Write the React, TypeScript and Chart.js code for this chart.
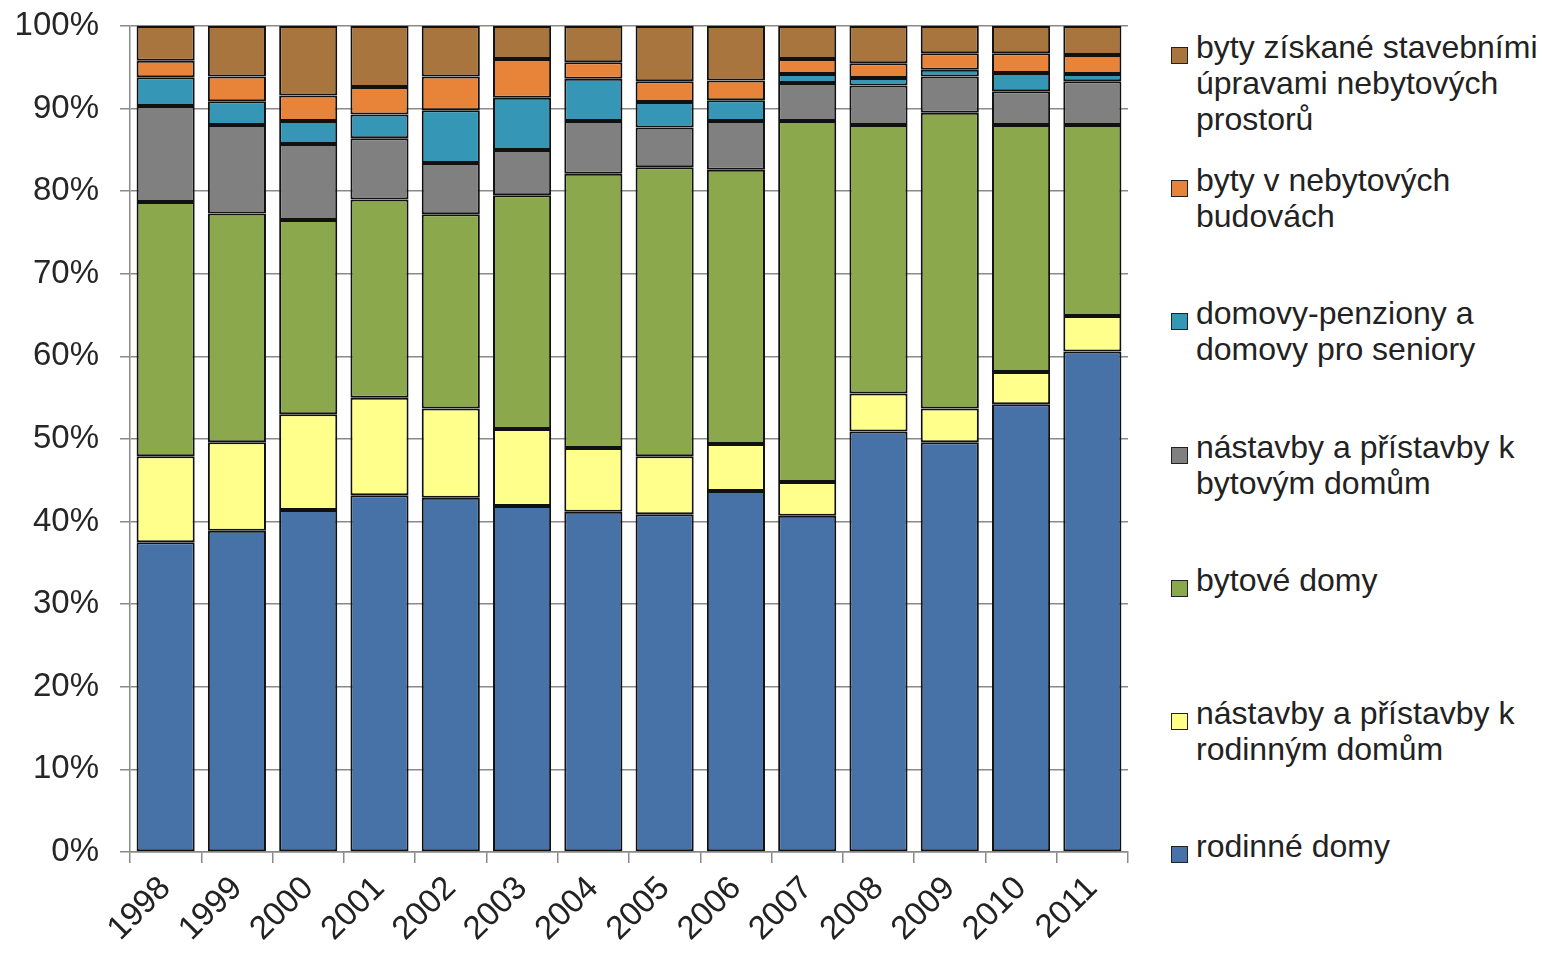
import React, { useEffect, useRef } from "react";
import { Chart, registerables } from "chart.js";

Chart.register(...registerables);

const years = ["1998", "1999", "2000", "2001", "2002", "2003", "2004", "2005", "2006", "2007", "2008", "2009", "2010", "2011"];

const rodinneDomy = [37.5, 38.9, 41.4, 43.2, 42.9, 41.9, 41.2, 40.9, 43.7, 40.7, 50.9, 49.6, 54.2, 60.6];
const nastavbyRD = [10.4, 10.7, 11.6, 11.8, 10.8, 9.3, 7.7, 7.0, 5.7, 4.1, 4.6, 4.1, 3.9, 4.3];
const bytoveDomy = [30.8, 27.7, 23.5, 24.0, 23.5, 28.3, 33.2, 35.0, 33.2, 43.7, 32.5, 35.8, 29.9, 23.1];
const nastavbyBD = [11.6, 10.7, 9.2, 7.4, 6.2, 5.5, 6.4, 4.8, 5.9, 4.6, 4.8, 4.4, 4.1, 5.3];
const domovy = [3.5, 2.9, 2.8, 2.9, 6.4, 6.3, 5.1, 3.1, 2.5, 1.1, 0.9, 0.8, 2.2, 0.9];
const nebytoveBudovy = [2.0, 3.0, 3.1, 3.3, 4.1, 4.7, 2.0, 2.5, 2.4, 1.8, 1.8, 2.0, 2.4, 2.3];
const upravy = [4.2, 6.1, 8.4, 7.4, 6.1, 4.0, 4.4, 6.7, 6.6, 4.0, 4.5, 3.3, 3.3, 3.5];

const yTicks = [0, 10, 20, 30, 40, 50, 60, 70, 80, 90, 100];

const series = [
  { label: "rodinné domy", lines: ["rodinné domy"], data: rodinneDomy, color: "#4672a8" },
  { label: "nástavby a přístavby k rodinným domům", lines: ["nástavby a přístavby k", "rodinným domům"], data: nastavbyRD, color: "#ffff8c" },
  { label: "bytové domy", lines: ["bytové domy"], data: bytoveDomy, color: "#8ca84d" },
  { label: "nástavby a přístavby k bytovým domům", lines: ["nástavby a přístavby k", "bytovým domům"], data: nastavbyBD, color: "#808080" },
  { label: "domovy-penziony a domovy pro seniory", lines: ["domovy-penziony a", "domovy pro seniory"], data: domovy, color: "#3596b6" },
  { label: "byty v nebytových budovách", lines: ["byty v nebytových", "budovách"], data: nebytoveBudovy, color: "#e8843a" },
  { label: "byty získané stavebními úpravami nebytových prostorů", lines: ["byty získané stavebními", "úpravami nebytových", "prostorů"], data: upravy, color: "#a9753e" },
];

const FONT = "'Liberation Sans', Arial, sans-serif";

export default function App() {
  const canvasRef = useRef<HTMLCanvasElement | null>(null);

  useEffect(() => {
    document.body.style.margin = "0";
    document.body.style.background = "#ffffff";
    const canvas = canvasRef.current;
    if (!canvas) return;
    const chart = new Chart(canvas, {
      type: "bar",
      data: {
        labels: years,
        datasets: series.map((s) => ({
          label: s.label,
          data: s.data,
          backgroundColor: s.color,
          borderColor: "#111111",
          borderWidth: 2,
          borderSkipped: false,
          barPercentage: 0.815,
          categoryPercentage: 1.0,
        })),
      },
      options: {
        responsive: false,
        animation: false,
        devicePixelRatio: 1,
        layout: { padding: { top: 26, right: 22, left: 0, bottom: 0 } },
        plugins: {
          legend: { display: false },
          tooltip: { enabled: false },
        },
        scales: {
          x: {
            stacked: true,
            offset: true,
            grid: {
              offset: true,
              drawOnChartArea: false,
              drawTicks: true,
              tickLength: 11,
              color: "#8a8a8a",
              lineWidth: 1.5,
            },
            border: { display: true, color: "#8a8a8a", width: 1.5 },
            ticks: {
              autoSkip: false,
              maxRotation: 45,
              minRotation: 45,
              color: "#222222",
              font: { family: FONT, size: 33 },
              padding: 6,
            },
            afterFit: (scale: any) => {
              scale.height = 101;
              scale.paddingLeft = 0;
              scale.paddingRight = 0;
            },
          },
          y: {
            stacked: true,
            min: 0,
            max: 100,
            afterBuildTicks: (scale: any) => {
              scale.ticks = yTicks.map((v) => ({ value: v }));
            },
            grid: {
              color: "#8a8a8a",
              lineWidth: 1.5,
              drawTicks: true,
              tickLength: 10,
            },
            border: { display: true, color: "#8a8a8a", width: 1.5 },
            ticks: {
              color: "#262626",
              font: { family: FONT, size: 33 },
              padding: 21,
              callback: (v: any) => v + "%",
            },
            afterFit: (scale: any) => {
              scale.width = 130;
              scale.paddingTop = 0;
              scale.paddingBottom = 0;
            },
          },
        },
      },
    });
    return () => chart.destroy();
  }, []);

  const legendItems = [...series].reverse();
  const baselines = [58, 191, 324, 458, 591, 724, 857];

  return (
    <div style={{ position: "relative", width: 1546, height: 953, background: "#fff", overflow: "hidden" }}>
      <canvas ref={canvasRef} width={1150} height={953} style={{ position: "absolute", left: 0, top: 0, width: 1150, height: 953 }} />
      {legendItems.map((s, i) => (
        <div key={s.label} style={{ position: "absolute", left: 1171, top: baselines[i] - 29, width: 375 }}>
          <div
            style={{
              position: "absolute",
              left: 0,
              top: 18,
              width: 15,
              height: 15,
              background: s.color,
              border: "1.5px solid #222",
            }}
          />
          <div
            style={{
              position: "absolute",
              left: 25,
              top: 0,
              fontFamily: FONT,
              fontSize: 32,
              lineHeight: "36px",
              color: "#222",
              whiteSpace: "nowrap",
            }}
          >
            {s.lines.map((l, j) => (
              <div key={j}>{l}</div>
            ))}
          </div>
        </div>
      ))}
    </div>
  );
}
